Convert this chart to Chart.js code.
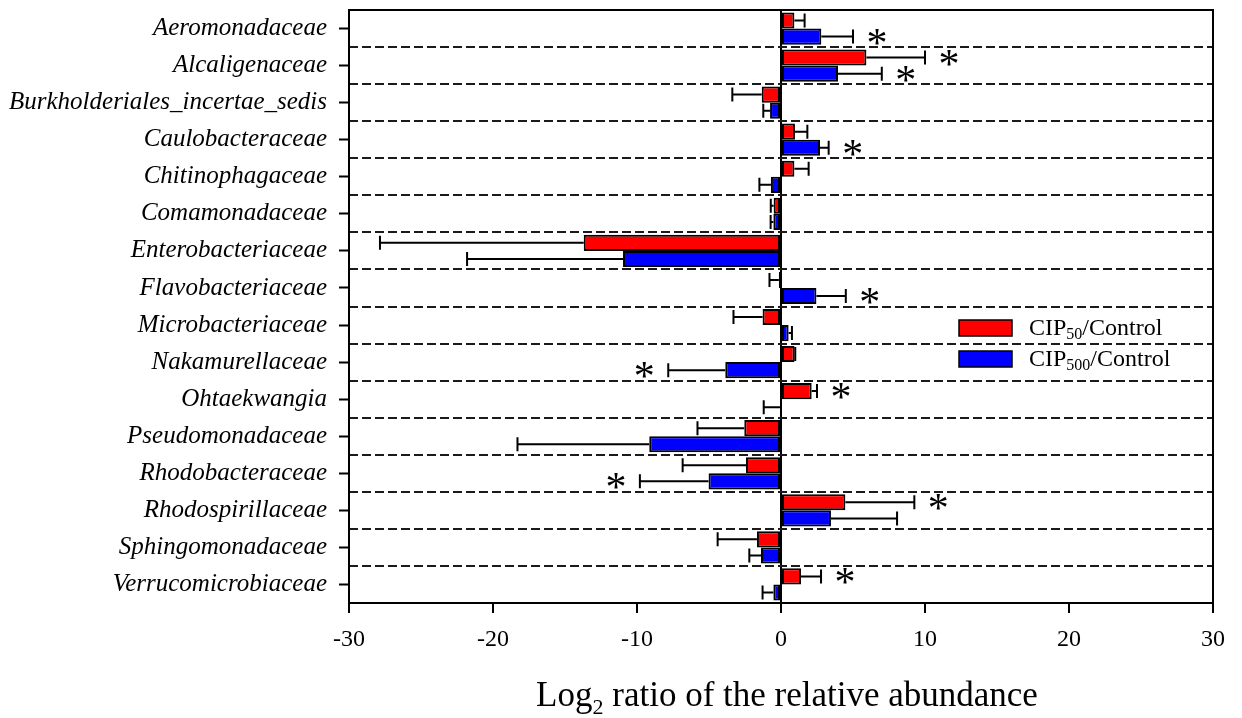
<!DOCTYPE html>
<html>
<head>
<meta charset="utf-8">
<script src="https://cdn.jsdelivr.net/npm/chart.js@4.4.1/dist/chart.umd.min.js"></script>
<style>
  html, body { margin: 0; padding: 0; background: #fff; }
  #wrap { width: 1242px; height: 718px; }
</style>
</head>
<body>
<div id="wrap"><canvas id="chart" width="1242" height="718"></canvas></div>
<script>
// families (top to bottom)
const families = [
  "Aeromonadaceae", "Alcaligenaceae", "Burkholderiales_incertae_sedis", "Caulobacteraceae",
  "Chitinophagaceae", "Comamonadaceae", "Enterobacteriaceae", "Flavobacteriaceae",
  "Microbacteriaceae", "Nakamurellaceae", "Ohtaekwangia", "Pseudomonadaceae",
  "Rhodobacteraceae", "Rhodospirillaceae", "Sphingomonadaceae", "Verrucomicrobiaceae"
];

// log2 ratios
const cip50 = [0.93, 5.93, -1.34, 0.97, 0.93, -0.51, -13.7, -0.15, -1.28, 0.94, 2.13, -2.55, -2.43, 4.47, -1.67, 1.39];
const cip500 = [2.8, 3.96, -0.76, 2.71, -0.7, -0.53, -10.97, 2.46, 0.53, -3.87, -0.05, -9.15, -5.03, 3.47, -1.39, -0.53];

// error bar lengths (drawn away from zero)
const cip50Err = [0.71, 4.07, 2.04, 0.86, 0.99, 0.2, 14.15, 0.65, 2.02, 0.05, 0.37, 3.25, 4.4, 4.79, 2.73, 1.39];
const cip500Err = [2.2, 3.04, 0.47, 0.6, 0.8, 0.19, 10.83, 2.04, 0.23, 3.96, 1.15, 9.15, 4.77, 4.59, 0.81, 0.75];

// significance marks
const cip50Sig = [0, 1, 0, 0, 0, 0, 0, 0, 0, 0, 1, 0, 0, 1, 0, 1];
const cip500Sig = [1, 1, 0, 1, 0, 0, 0, 1, 0, 1, 0, 0, 1, 0, 0, 0];

const xTicks = [-30, -20, -10, 0, 10, 20, 30];
const seriesSub = ["50", "500"];
const seriesColors = ["#ff0000", "#0000ff"];

const serif = "'Liberation Serif', 'Times New Roman', serif";

// dashed separators between families
const separatorPlugin = {
  id: "separators",
  beforeDatasetsDraw(chart) {
    const { ctx, chartArea, scales } = chart;
    const y = scales.y;
    ctx.save();
    ctx.strokeStyle = "#1a1a1a";
    ctx.lineWidth = 2;
    ctx.setLineDash([9, 4]);
    for (let i = 0; i < families.length - 1; i++) {
      const py = Math.round((y.getPixelForValue(i) + y.getPixelForValue(i + 1)) / 2);
      ctx.beginPath();
      ctx.moveTo(chartArea.left, py);
      ctx.lineTo(chartArea.right, py);
      ctx.stroke();
    }
    ctx.restore();
  }
};

// error bars, asterisks, frame, legend and axis title
const extrasPlugin = {
  id: "extras",
  afterDatasetsDraw(chart) {
    const { ctx, scales } = chart;
    const x = scales.x;
    const errs = [cip50Err, cip500Err];
    const sigs = [cip50Sig, cip500Sig];
    ctx.save();
    ctx.strokeStyle = "#000";
    ctx.lineWidth = 2;
    ctx.fillStyle = "#000";
    ctx.font = "42px " + serif;
    ctx.textAlign = "center";
    const m = ctx.measureText("*");
    const starShift = (m.actualBoundingBoxAscent - m.actualBoundingBoxDescent) / 2;
    chart.data.datasets.forEach((ds, d) => {
      const meta = chart.getDatasetMeta(d);
      meta.data.forEach((bar, i) => {
        const v = ds.data[i];
        const dir = v < 0 ? -1 : 1;
        const endPx = x.getPixelForValue(v + dir * errs[d][i]);
        const cap = 7;
        ctx.beginPath();
        ctx.moveTo(bar.x, bar.y);
        ctx.lineTo(endPx, bar.y);
        ctx.moveTo(endPx, bar.y - cap);
        ctx.lineTo(endPx, bar.y + cap);
        ctx.stroke();
        if (sigs[d][i]) {
          ctx.fillText("*", endPx + dir * 24, bar.y + starShift);
        }
      });
    });
    ctx.restore();
  },
  afterDraw(chart) {
    const { ctx, chartArea } = chart;
    ctx.save();
    // frame
    ctx.strokeStyle = "#000";
    ctx.lineWidth = 2;
    ctx.strokeRect(chartArea.left, chartArea.top, chartArea.right - chartArea.left, chartArea.bottom - chartArea.top);

    // legend
    ctx.textBaseline = "alphabetic";
    seriesSub.forEach((sub, k) => {
      const top = 320 + k * 31;
      ctx.fillStyle = seriesColors[k];
      ctx.fillRect(959, top, 53, 16);
      ctx.strokeStyle = "#000";
      ctx.lineWidth = 1.5;
      ctx.strokeRect(959, top, 53, 16);
      ctx.fillStyle = "#000";
      let tx = 1029;
      const base = top + 15;
      ctx.font = "24px " + serif;
      ctx.fillText("CIP", tx, base);
      tx += ctx.measureText("CIP").width;
      ctx.font = "16px " + serif;
      ctx.fillText(sub, tx, base + 4);
      tx += ctx.measureText(sub).width;
      ctx.font = "24px " + serif;
      ctx.fillText("/Control", tx, base);
    });

    // x axis title with subscript
    const p1 = "Log", p2 = "2", p3 = " ratio of the relative abundance";
    ctx.font = "35px " + serif;
    const w1 = ctx.measureText(p1).width, w3 = ctx.measureText(p3).width;
    ctx.font = "22px " + serif;
    const w2 = ctx.measureText(p2).width;
    const cx = (chartArea.left + chartArea.right) / 2 + 6;
    let tx = cx - (w1 + w2 + w3) / 2;
    const by = 706;
    ctx.font = "35px " + serif;
    ctx.fillText(p1, tx, by);
    tx += w1;
    ctx.font = "22px " + serif;
    ctx.fillText(p2, tx, by + 8);
    tx += w2;
    ctx.font = "35px " + serif;
    ctx.fillText(p3, tx, by);
    ctx.restore();
  }
};

new Chart(document.getElementById("chart"), {
  type: "bar",
  data: {
    labels: families,
    datasets: [
      {
        label: "CIP\u2085\u2080/Control",
        data: cip50,
        backgroundColor: seriesColors[0],
        borderColor: "#000",
        borderWidth: 2,
        borderSkipped: false
      },
      {
        label: "CIP\u2085\u2080\u2080/Control",
        data: cip500,
        backgroundColor: seriesColors[1],
        borderColor: "#000",
        borderWidth: 2,
        borderSkipped: false
      }
    ]
  },
  options: {
    indexAxis: "y",
    responsive: false,
    animation: false,
    barPercentage: 1,
    categoryPercentage: 0.87,
    layout: { padding: { top: 10, right: 29, left: 0, bottom: 0 } },
    plugins: {
      legend: { display: false },
      tooltip: { enabled: false }
    },
    scales: {
      x: {
        min: -30,
        max: 30,
        afterFit: (s) => { s.height = 115; s.paddingLeft = 0; s.paddingRight = 0; },
        afterBuildTicks: (s) => { s.ticks = xTicks.map((v) => ({ value: v })); },
        ticks: {
          color: "#000",
          padding: 12,
          font: { family: serif, size: 24 }
        },
        grid: {
          drawOnChartArea: true,
          color: (c) => (c.tick && c.tick.value === 0 ? "#000" : "rgba(0,0,0,0)"),
          lineWidth: 2,
          tickColor: "#000",
          tickWidth: 2,
          tickLength: 10
        },
        border: { display: true, color: "#000", width: 2 }
      },
      y: {
        afterFit: (s) => { s.width = 349; s.paddingTop = 0; s.paddingBottom = 0; },
        ticks: {
          color: "#000",
          padding: 12,
          font: { family: serif, size: 25, style: "italic" }
        },
        grid: {
          offset: false,
          drawOnChartArea: false,
          tickColor: "#000",
          tickWidth: 2,
          tickLength: 10
        },
        border: { display: true, color: "#000", width: 2 }
      }
    }
  },
  plugins: [separatorPlugin, extrasPlugin]
});
</script>
</body>
</html>
